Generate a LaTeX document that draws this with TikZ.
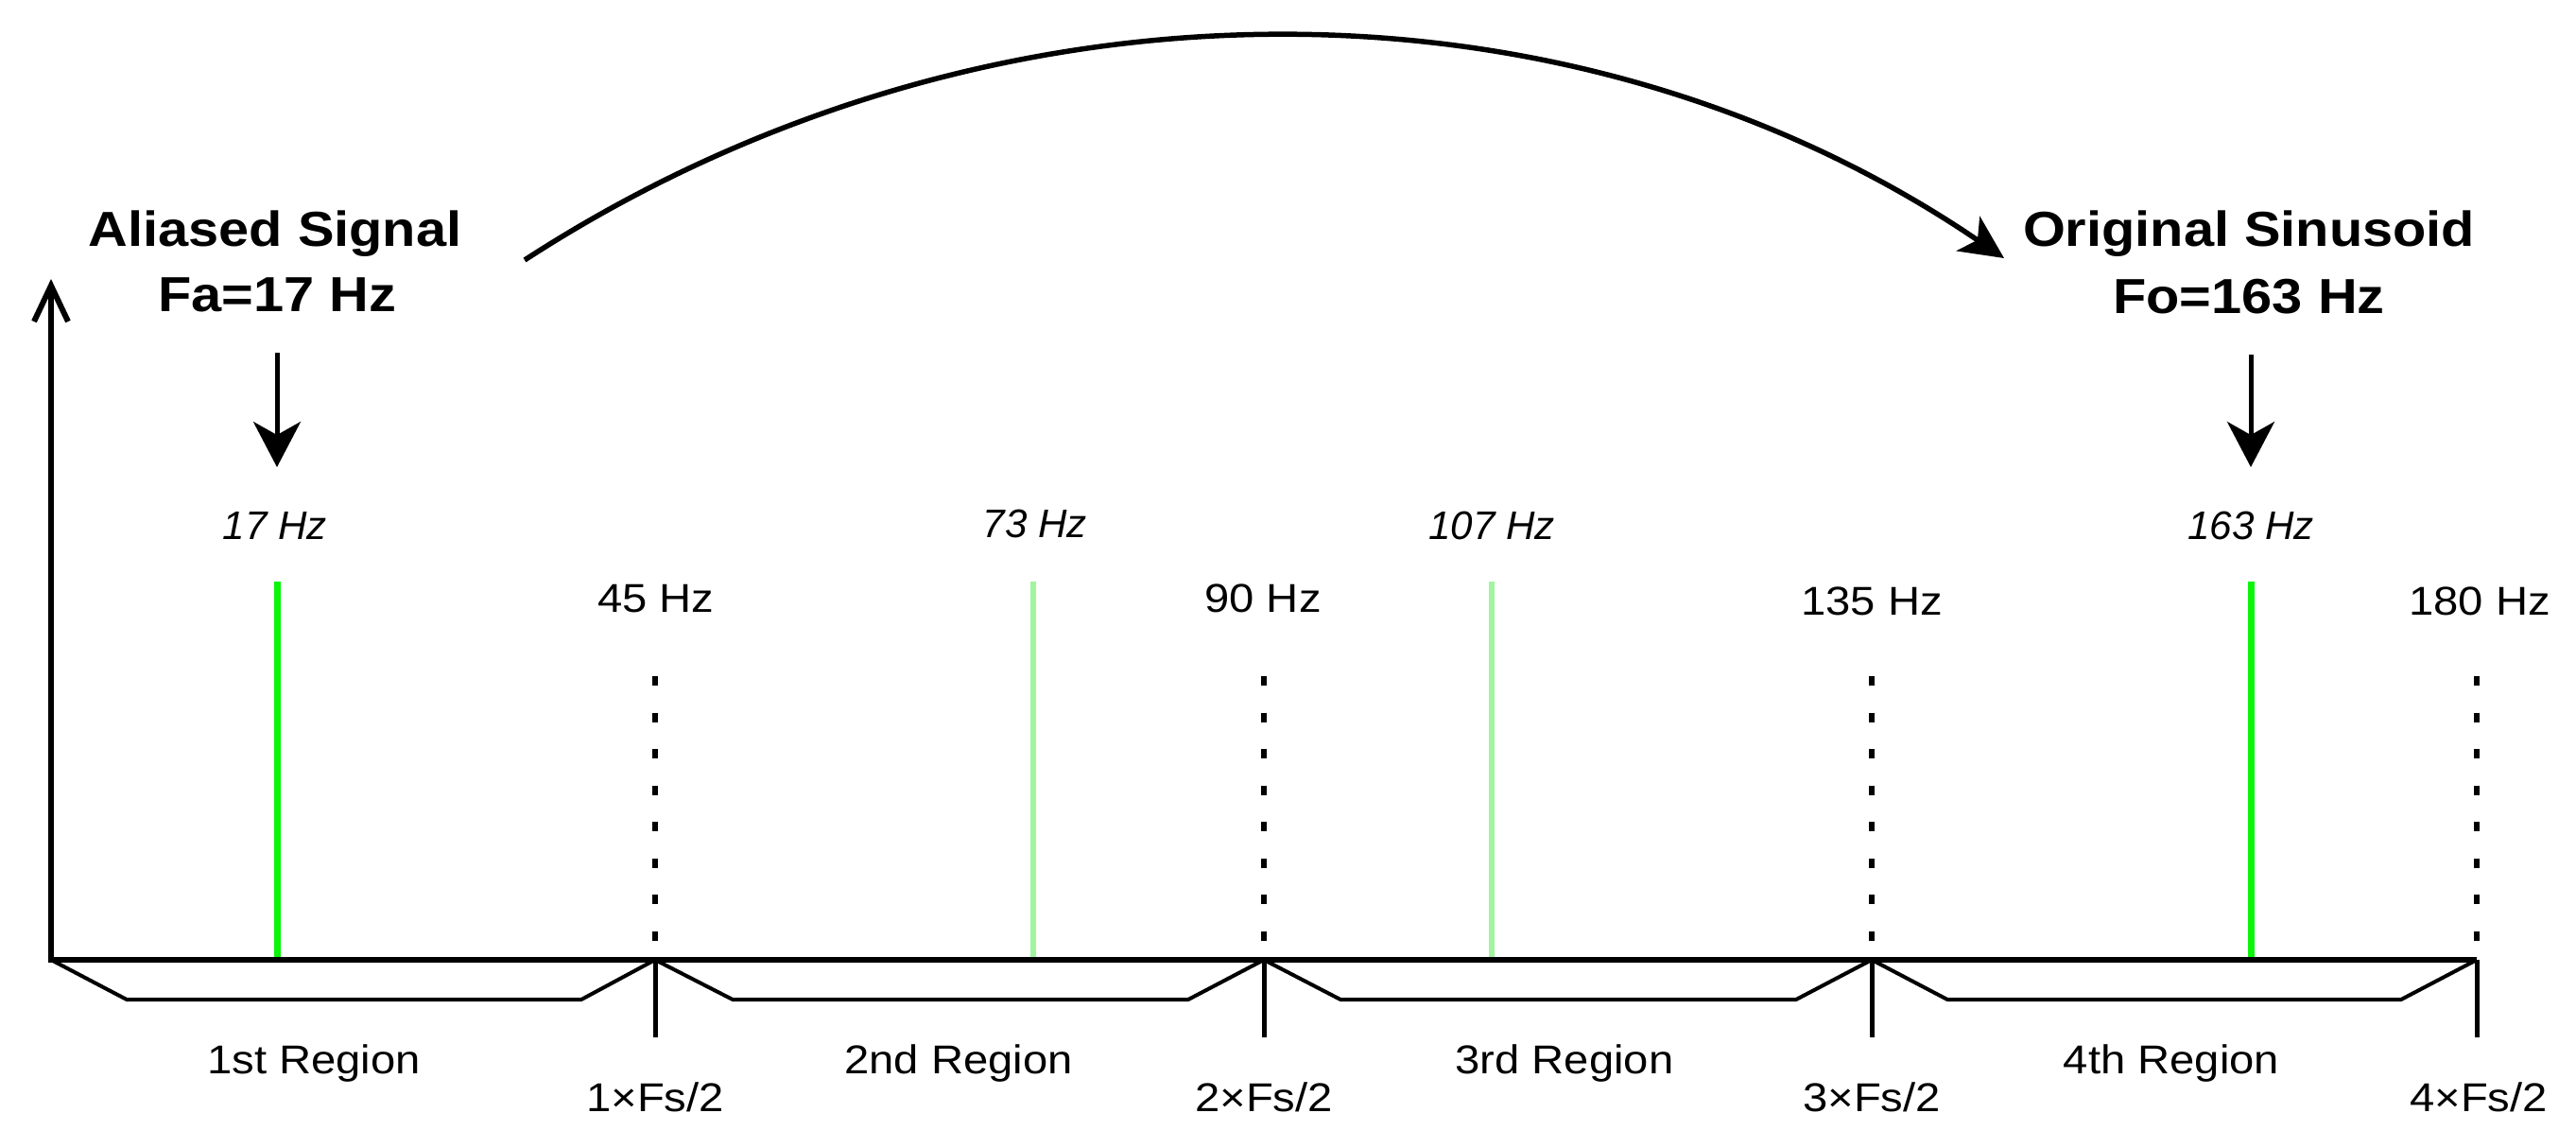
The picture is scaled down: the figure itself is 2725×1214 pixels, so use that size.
\documentclass[tikz,border=0pt]{standalone}
\usepackage{fontspec}
\setmainfont{Liberation Sans}
\newfontfamily\widesans[FakeStretch=1.11]{Liberation Sans}
\usetikzlibrary{arrows.meta}
\definecolor{sigGreen}{RGB}{10,245,10}
\definecolor{paleGreen}{RGB}{160,245,160}
\begin{document}
\begin{tikzpicture}[x=0.1mm,y=-0.1mm,
  every node/.style={inner sep=0pt, outer sep=0pt},
  titletext/.style={font=\widesans\bfseries\fontsize{14.8}{17}\selectfont, anchor=base},
  hzlabel/.style={font=\widesans\fontsize{12.1}{14}\selectfont, anchor=base},
  ithz/.style={font=\itshape\fontsize{12}{14}\selectfont, anchor=base},
  axisline/.style={line width=0.6mm},
  tickline/.style={line width=0.5mm},
  bracketline/.style={line width=0.4mm},
  dotline/.style={line width=0.6mm, dash pattern=on 1mm off 2.85mm},
  specline/.style={line width=0.7mm, sigGreen},
  paleline/.style={line width=0.6mm, paleGreen},
  downarrow/.style={line width=0.5mm, -{Stealth[length=4.8mm,width=5mm,inset=1.4mm]}},
  arcarrow/.style={line width=0.55mm, -{Stealth[length=4.6mm,width=4.4mm,inset=1.2mm]}}
]
\useasboundingbox (0,0) rectangle (2725,1214);

% axis points
\coordinate (origin) at (54,1015);
\coordinate (ytop) at (54,295);
\coordinate (t1) at (693,1015);
\coordinate (t2) at (1337,1015);
\coordinate (t3) at (1980,1015);
\coordinate (t4) at (2620,1015);

% spectral lines (behind axis)
\coordinate (g17) at (293,615);
\coordinate (g73) at (1093,615);
\coordinate (g107) at (1578,615);
\coordinate (g163) at (2381,615);
\draw[specline] (g17) -- (g17 |- origin);
\draw[paleline] (g73) -- (g73 |- origin);
\draw[paleline] (g107) -- (g107 |- origin);
\draw[specline] (g163) -- (g163 |- origin);

% dotted boundaries
\foreach \t in {t1,t2,t3,t4}{
  \draw[dotline] ([yshift=30mm]\t) -- (\t);
}

% axes
\draw[axisline, line join=miter, -{Straight Barb[length=3.8mm,width=3.6mm]}] (t4) -- (origin) -- (ytop);

% ticks below
\foreach \t in {t1,t2,t3,t4}{
  \draw[tickline] (\t) -- ++(0,82);
}

% region brackets
\draw[bracketline] (origin) -- ++(80,42) -- ([shift={(-78,42)}]t1) -- (t1);
\draw[bracketline] (t1) -- ++(82,42) -- ([shift={(-80,42)}]t2) -- (t2);
\draw[bracketline] (t2) -- ++(81,42) -- ([shift={(-80,42)}]t3) -- (t3);
\draw[bracketline] (t3) -- ++(80,42) -- ([shift={(-80,42)}]t4) -- (t4);

% region labels
\node[hzlabel] (r1) at (332,1135) {1st Region};
\node[hzlabel] (r2) at (1014,1135) {2nd Region};
\node[hzlabel] (r3) at (1655,1135) {3rd Region};
\node[hzlabel] (r4) at (2297,1135) {4th Region};

% Fs labels
\node[hzlabel] (f1) at (693,1175) {1×Fs/2};
\node[hzlabel] (f2) at (1337,1175) {2×Fs/2};
\node[hzlabel] (f3) at (1980,1175) {3×Fs/2};
\node[hzlabel] (f4) at (2622,1175) {4×Fs/2};

% boundary frequency labels
\node[hzlabel] (h45) at (694,647) {45 Hz};
\node[hzlabel] (h90) at (1336,647) {90 Hz};
\node[hzlabel] (h135) at (1980,650) {135 Hz};
\node[hzlabel] (h180) at (2623,650) {180 Hz};

% spectral line labels
\node[ithz] (l17) at (291,570) {17 Hz};
\node[ithz] (l73) at (1095,568) {73 Hz};
\node[ithz] (l107) at (1578,570) {107 Hz};
\node[ithz] (l163) at (2381,570) {163 Hz};

% titles
\node[titletext] (alias1) at (291,260) {Aliased Signal};
\node[titletext] (alias2) at (293,329) {Fa=17 Hz};
\node[titletext] (orig1) at (2379,260) {Original Sinusoid};
\node[titletext] (orig2) at (2379,331) {Fo=163 Hz};

% down arrows
\coordinate (da1s) at (293,373);
\coordinate (da1e) at (293,494);
\coordinate (da2s) at (2381,375);
\coordinate (da2e) at (2381,494);
\draw[downarrow] (da1s) -- (da1e);
\draw[downarrow] (da2s) -- (da2e);

% big arc
\coordinate (arcstart) at (555,275);
\coordinate (arcend) at (2120,273);
\draw[arcarrow] (arcstart) .. controls (1040,-40) and (1660,-40) .. (arcend);
\end{tikzpicture}
\end{document}
